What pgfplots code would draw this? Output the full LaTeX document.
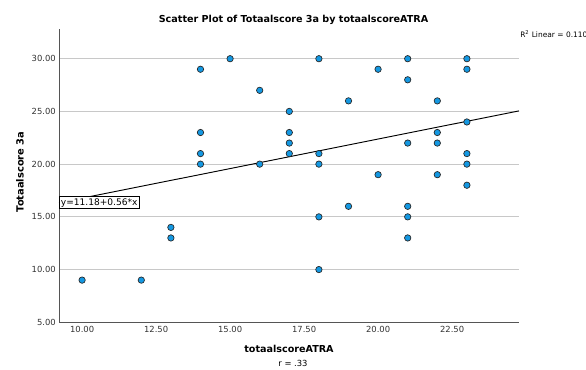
\documentclass[border=0pt]{standalone}
\usepackage{pgfplots}
\pgfplotsset{compat=1.18}
\usepackage{fontspec}
\setmainfont{DejaVu Sans}
\definecolor{ptfill}{RGB}{20,152,226}
\definecolor{gridc}{RGB}{200,200,200}
\definecolor{axc}{RGB}{85,85,85}
\begin{document}
\begin{tikzpicture}
\useasboundingbox (-44.25pt,-35.775pt) rectangle (395.25pt,241.725pt);
\begin{axis}[
  at={(0pt,0pt)}, anchor=south west,
  scale only axis, width=345pt, height=219.75pt,
  xmin=9.22, xmax=24.76, ymin=5, ymax=32.79,
  axis x line*=bottom, axis y line*=left,
  axis line style={axc, line width=0.7pt},
  xtick={10,12.5,15,17.5,20,22.5}, ytick={5,10,15,20,25,30},
  major tick length=0pt,
  ymajorgrids, grid style={gridc, line width=0.7pt},
  clip=false,
  xticklabel style={font=\fontsize{6.3}{7}\selectfont, text=black!80, anchor=center, inner sep=0pt, yshift=-5pt,
    /pgf/number format/.cd, fixed, fixed zerofill, precision=2, assume math mode=true},
  yticklabel style={font=\fontsize{6.3}{7}\selectfont, text=black!80, anchor=east, inner sep=0pt, xshift=-2.25pt,
    /pgf/number format/.cd, fixed, fixed zerofill, precision=2, assume math mode=true},
]
\addplot[black, line width=0.7pt] coordinates {(9.22,16.34) (24.76,25.05)};
\addplot[only marks, mark=*, mark size=2.4pt, mark options={fill=ptfill, draw=black!85, line width=0.5pt}] coordinates {
(10,9) (12,9)
(13,14) (13,13)
(14,29) (14,23) (14,21) (14,20)
(15,30)
(16,27) (16,20)
(17,25) (17,23) (17,22) (17,21)
(18,30) (18,21) (18,20) (18,15) (18,10)
(19,26) (19,16)
(20,29) (20,19)
(21,30) (21,28) (21,22) (21,16) (21,15) (21,13)
(22,26) (22,23) (22,22) (22,19)
(23,30) (23,29) (23,24) (23,21) (23,20) (23,18)
};
\node[draw=black, line width=0.5pt, fill=white, anchor=west, inner sep=1.2pt, font=\fontsize{6.8}{7.5}\selectfont] at (axis cs:9.22,16.34) {y=11.18+0.56*x};
\end{axis}
\node[font=\bfseries\fontsize{7.2}{8}\selectfont] at (175.9pt,226.7pt) {Scatter Plot of Totaalscore 3a by totaalscoreATRA};
\node[rotate=90, font=\bfseries\fontsize{7.4}{8}\selectfont] at (-29.25pt,112.7pt) {Totaalscore 3a};
\node[font=\bfseries\fontsize{7.2}{8}\selectfont] at (172.5pt,-20pt) {totaalscoreATRA};
\node[font=\fontsize{6.3}{7}\selectfont, inner sep=0pt] at (175.5pt,-30.8pt) {r = .33};
\node[anchor=west, inner sep=0pt, font=\fontsize{5.6}{6}\selectfont] at (345.75pt,216.2pt) {R\textsuperscript{2} Linear = 0.110};
\end{tikzpicture}
\end{document}
